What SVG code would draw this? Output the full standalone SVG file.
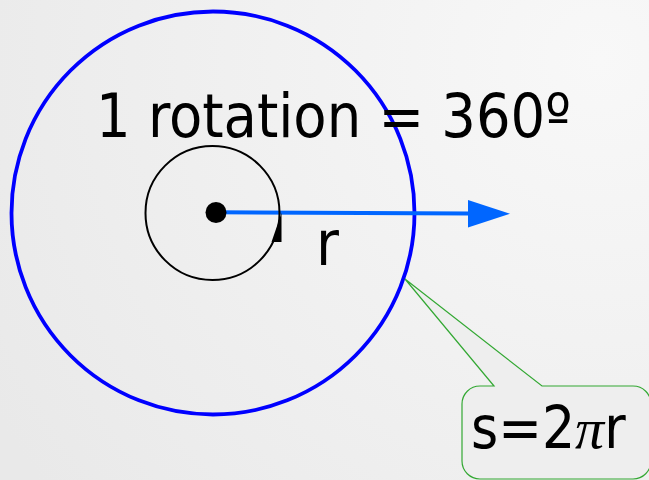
<svg xmlns="http://www.w3.org/2000/svg" width="649" height="480" viewBox="0 0 649 480">
  <defs>
    <radialGradient id="bg" cx="600" cy="60" r="700" gradientUnits="userSpaceOnUse">
      <stop offset="0" stop-color="#f8f8f8"/>
      <stop offset="1" stop-color="#e9e9e9"/>
    </radialGradient>
    <style>
      .lbl { font-family: "DejaVu Sans Condensed", "DejaVu Sans", sans-serif; font-stretch: condensed; fill: #000; }
      .sym { font-family: "Liberation Serif", serif; font-style: italic; }
    </style>
  </defs>
  <rect x="0" y="0" width="649" height="480" fill="url(#bg)"/>

  <g id="outer-circle">
    <circle cx="213" cy="213" r="201.5" fill="none" stroke="#0000ff" stroke-width="3.8"/>
  </g>

  <g id="title">
    <text class="lbl" x="96" y="137" font-size="60.5">1 rotation = 360º</text>
  </g>

  <g id="connectors">
    <line x1="216" y1="212.3" x2="470" y2="213.5" stroke="#0066ff" stroke-width="4"/>
    <polygon points="468,200 510,213.7 468,227.5" fill="#0066ff"/>
  </g>

  <g id="inner-circle">
    <circle cx="212.5" cy="213" r="67" fill="none" stroke="#000" stroke-width="2"/>
    <polygon points="281.5,213 271.5,242 281.5,242" fill="#000"/>
    <circle cx="216" cy="212.5" r="10.5" fill="#000"/>
  </g>

  <g id="radius-label">
    <text class="lbl" x="316" y="265" font-size="62">r</text>
  </g>

  <g id="callout">
    <path d="M 480 386 L 494 386 L 405 279 L 542 386 L 633 386 A 18 18 0 0 1 651 404 L 651 461 A 18 18 0 0 1 633 479 L 480 479 A 18 18 0 0 1 462 461 L 462 404 A 18 18 0 0 1 480 386 Z" fill="#eeeeee" stroke="#33a833" stroke-width="1.2"/>
    <text class="lbl" x="471" y="448" font-size="58">s=2<tspan class="sym">π</tspan>r</text>
  </g>
</svg>
